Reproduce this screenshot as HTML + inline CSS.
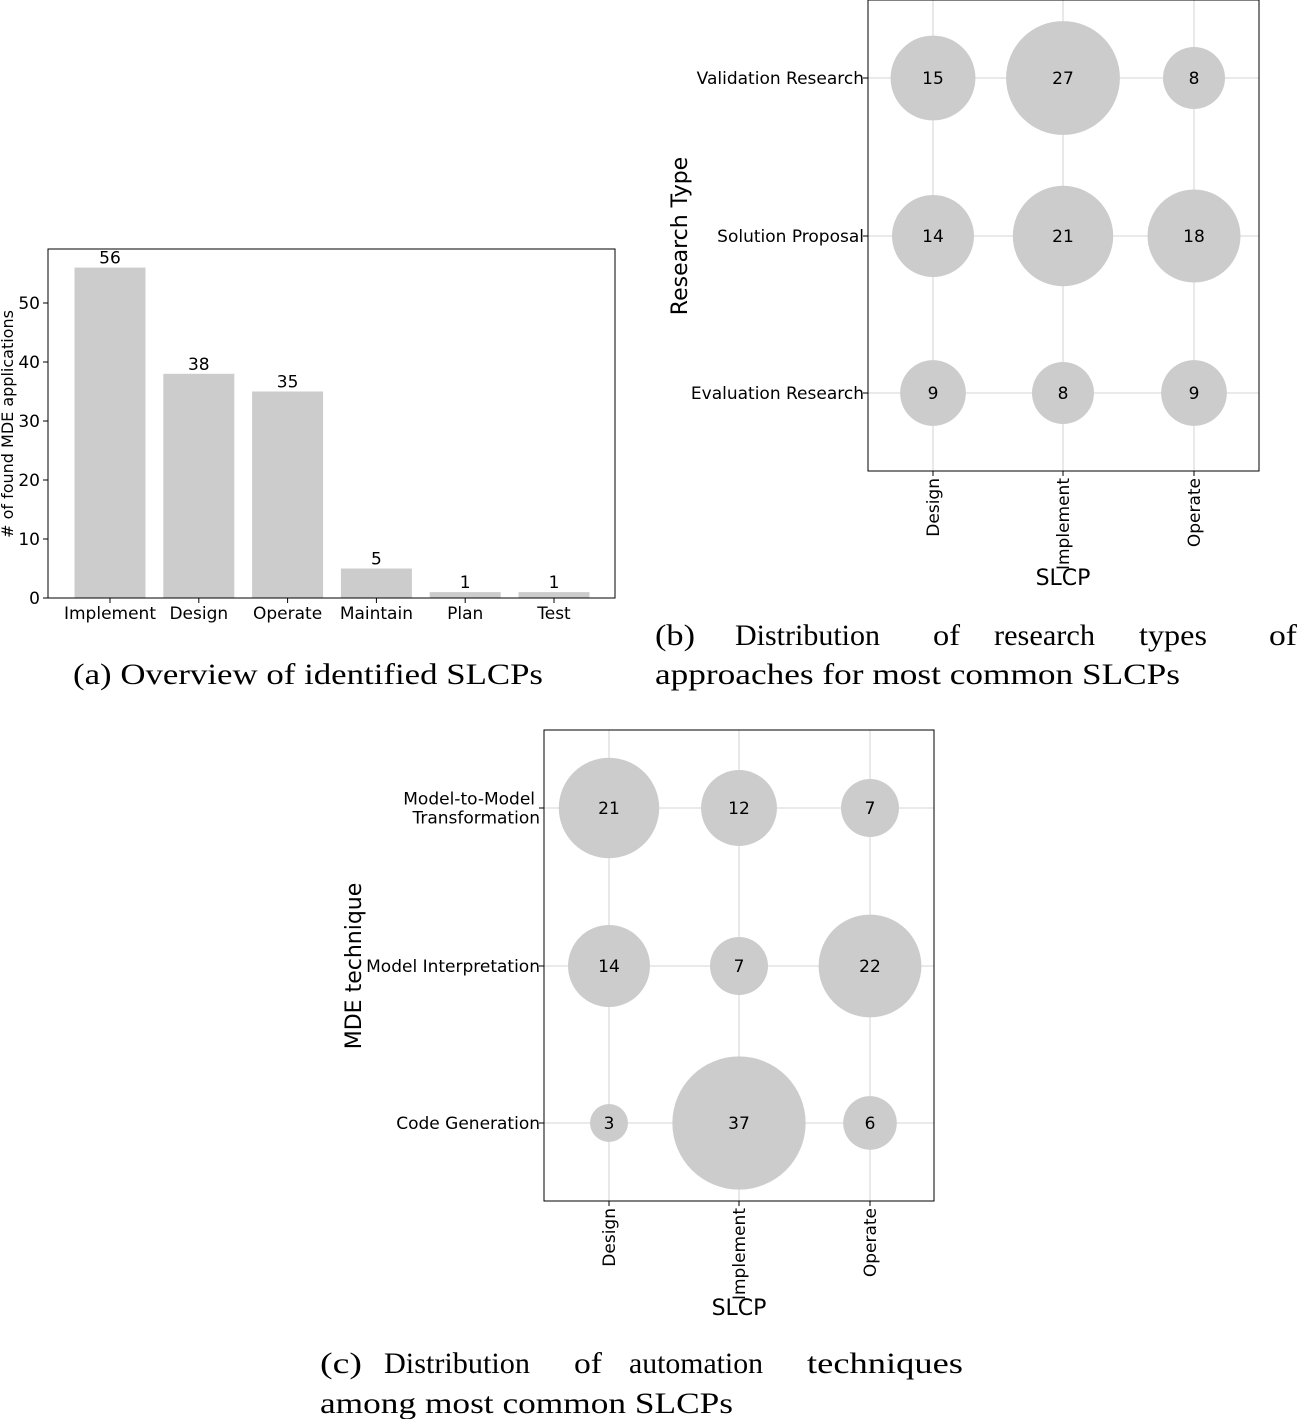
<!DOCTYPE html>
<html><head><meta charset="utf-8"><style>
body{margin:0;background:#fff;width:1300px;height:1419px;overflow:hidden}
svg{display:block}
.t{font-family:"DejaVu Sans","Liberation Sans",sans-serif;fill:#000}
.cap{font-family:"Liberation Serif",serif;font-size:30px;fill:#000}
</style></head><body>
<svg id="s" width="1300" height="1419">
<g id="ga"></g>
<g id="gb"></g>
<g id="gc"></g>
<text class="cap" x="73" y="684" textLength="470" lengthAdjust="spacingAndGlyphs">(a) Overview of identified SLCPs</text>
<text class="cap" y="645"><tspan x="655" textLength="40" lengthAdjust="spacingAndGlyphs">(b)</tspan><tspan x="735" textLength="145" lengthAdjust="spacingAndGlyphs">Distribution</tspan><tspan x="933" textLength="27" lengthAdjust="spacingAndGlyphs">of</tspan><tspan x="994" textLength="101" lengthAdjust="spacingAndGlyphs">research</tspan><tspan x="1139" textLength="68" lengthAdjust="spacingAndGlyphs">types</tspan><tspan x="1269" textLength="28" lengthAdjust="spacingAndGlyphs">of</tspan></text>
<text class="cap" x="655" y="684" textLength="525" lengthAdjust="spacingAndGlyphs">approaches for most common SLCPs</text>
<text class="cap" y="1373"><tspan x="320" textLength="42" lengthAdjust="spacingAndGlyphs">(c)</tspan><tspan x="384" textLength="146" lengthAdjust="spacingAndGlyphs">Distribution</tspan><tspan x="574" textLength="28" lengthAdjust="spacingAndGlyphs">of</tspan><tspan x="629" textLength="134" lengthAdjust="spacingAndGlyphs">automation</tspan><tspan x="807" textLength="156" lengthAdjust="spacingAndGlyphs">techniques</tspan></text>
<text class="cap" x="320" y="1413" textLength="413" lengthAdjust="spacingAndGlyphs">among most common SLCPs</text>
</svg>
<script>
const NS="http://www.w3.org/2000/svg";
function mk(p,tag,attrs,txt){const e=document.createElementNS(NS,tag);for(const k in attrs)e.setAttribute(k,attrs[k]);if(txt!==undefined)e.textContent=txt;p.appendChild(e);return e;}
// Chart A data
const aCats=["Implement","Design","Operate","Maintain","Plan","Test"];
const aVals=[56,38,35,5,1,1];
const aTicks=[0,10,20,30,40,50];
// Chart B data
const bCols=["Design","Implement","Operate"];
const bRows=["Validation Research","Solution Proposal","Evaluation Research"];
const bVals=[[15,27,8],[14,21,18],[9,8,9]];
// Chart C data
const cCols=["Design","Implement","Operate"];
const cRows=[["Model-to-Model","Transformation"],["Model Interpretation"],["Code Generation"]];
const cVals=[[21,12,7],[14,7,22],[3,37,6]];

(function(){
const g=document.getElementById('ga');
const L=48,R=615,T=249,B=598,ymax=59.15;
const y=v=>B-(v/ymax)*(B-T);
const step=88.8, x0=110;
const xc=i=>x0+step*i;
const bw=71;
aVals.forEach((v,i)=>{
 const r=mk(g,'rect',{x:xc(i)-bw/2,y:y(v),width:bw,height:B-y(v),fill:'#cccccc'});
 
 
 const t=mk(g,'text',{class:'t',x:xc(i),y:y(v)-4,'text-anchor':'middle','font-size':17},String(v));
 
 
 mk(g,'line',{x1:xc(i),x2:xc(i),y1:B,y2:B+5,stroke:'#000'});
 const tl=mk(g,'text',{class:'t',x:xc(i),y:B+21,'text-anchor':'middle','font-size':17},aCats[i]);
 
 
});
aTicks.forEach(v=>{
 mk(g,'line',{x1:L-5,x2:L,y1:y(v),y2:y(v),stroke:'#000'});
 const t=mk(g,'text',{class:'t',x:L-8,y:y(v)+6,'text-anchor':'end','font-size':17},String(v));
 
 
});
mk(g,'rect',{x:L,y:T,width:R-L,height:B-T,fill:'none',stroke:'#000','stroke-width':1});
const yt=mk(g,'text',{class:'t',x:0,y:0,'text-anchor':'middle','font-size':16,transform:'translate(13,424) rotate(-90)'},'# of found MDE applications');


})();

function bubble(g,L,R,T,B,cols,rows,vals,ytitle,ytx,slcpY,pre){
 const cx=[L+65,L+195,L+326];
 const ry=[T+78,T+236,T+393];
 cx.forEach(x=>mk(g,'line',{x1:x,x2:x,y1:T,y2:B,stroke:'#c8c8c8','stroke-width':0.8}));
 ry.forEach(y=>mk(g,'line',{x1:L,x2:R,y1:y,y2:y,stroke:'#c8c8c8','stroke-width':0.8}));
 vals.forEach((row,i)=>row.forEach((v,j)=>{
  const c=mk(g,'circle',{cx:cx[j],cy:ry[i],r:Math.sqrt(v*120),fill:'#cccccc'});
  
  
  const t=mk(g,'text',{class:'t',x:cx[j],y:ry[i]+6,'text-anchor':'middle','font-size':17},String(v));
  
  
 }));
 mk(g,'rect',{x:L,y:T,width:R-L,height:B-T,fill:'none',stroke:'#000'});
 rows.forEach((lab,i)=>{
  mk(g,'line',{x1:L-5,x2:L,y1:ry[i],y2:ry[i],stroke:'#000'});
  const lines=Array.isArray(lab)?lab:[lab];
  const t=mk(g,'text',{class:'t','text-anchor':'end','font-size':17});
  
  
  lines.forEach((s,k)=>{
   const y=ry[i]+6+(k-(lines.length-1)/2)*19;
   mk(t,'tspan',{x:L-4-(lines.length>1&&k==0?5:0),y:y},s);
  });
 });
 cols.forEach((c,j)=>{
  mk(g,'line',{x1:cx[j],x2:cx[j],y1:B,y2:B+5,stroke:'#000'});
  const t=mk(g,'text',{class:'t','text-anchor':'end','font-size':17,transform:`translate(${cx[j]+6},${B+7}) rotate(-90)`},c);
  
  
 });
 const yt=mk(g,'text',{class:'t','text-anchor':'middle','font-size':22,transform:`translate(${ytx},${T+236}) rotate(-90)`},ytitle);
 
 
 const xt=mk(g,'text',{class:'t',x:cx[1],y:slcpY,'text-anchor':'middle','font-size':22},'SLCP');
 
 
}
bubble(document.getElementById('gb'),868,1259,0,471,bCols,bRows,bVals,'Research Type',687,585,'b');
bubble(document.getElementById('gc'),544,934,730,1201,cCols,cRows,cVals,'MDE technique',361,1315,'c');
</script>
</body></html>
